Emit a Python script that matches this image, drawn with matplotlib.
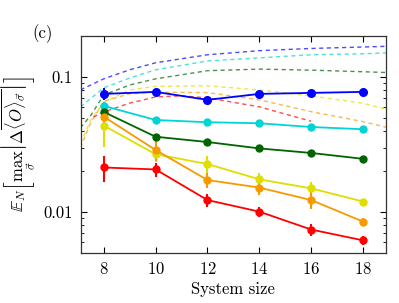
import matplotlib
matplotlib.use("Agg")
import matplotlib.pyplot as plt
from matplotlib.ticker import FixedLocator, FixedFormatter, LogLocator, NullFormatter

plt.rcParams['font.family'] = 'serif'
plt.rcParams['font.serif'] = ['cmr10', 'DejaVu Serif']
plt.rcParams['mathtext.fontset'] = 'cm'
plt.rcParams['axes.formatter.use_mathtext'] = True

# system sizes
sizes = [8, 10, 12, 14, 16, 18]

# data points (value, error)
blue_y = [0.0748, 0.0774, 0.0676, 0.0748, 0.0761, 0.0774]
blue_err = [0.0075, 0.002, 0.002, 0.0015, 0.0015, 0.0015]
cyan_y = [0.061, 0.048, 0.0462, 0.0454, 0.0426, 0.041]
cyan_err = [0.004, 0.0015, 0.0012, 0.001, 0.001, 0.001]
green_y = [0.055, 0.0361, 0.033, 0.0296, 0.0274, 0.0248]
green_err = [0.004, 0.0012, 0.001, 0.0008, 0.0008, 0.0007]
orange_y = [0.0508, 0.0288, 0.0173, 0.0152, 0.0123, 0.00853]
orange_err = [0.007, 0.0048, 0.0022, 0.0019, 0.0018, 0.0006]
yellow_y = [0.0436, 0.0268, 0.0227, 0.0175, 0.015, 0.012]
yellow_err = [0.0133, 0.0034, 0.0031, 0.0019, 0.0018, 0.0005]
red_y = [0.0214, 0.0207, 0.0123, 0.0101, 0.00745, 0.0062]
red_err = [0.0046, 0.0024, 0.0014, 0.0009, 0.00073, 0.00043]

# dashed curves
curve_x = [7.1, 8, 9, 10, 12, 14, 16, 18, 18.9]
blue_curve = [0.0801, 0.0967, 0.1127, 0.127, 0.1455, 0.156, 0.162, 0.166, 0.168]
cyan_curve = [0.060, 0.083, 0.098, 0.1127, 0.131, 0.138, 0.1455, 0.148, 0.150]

green_x = [7.1, 7.5, 8, 9, 10, 11, 12, 14, 16, 18, 18.9]
green_curve = [0.042, 0.052, 0.0736, 0.087, 0.0967, 0.1035, 0.111, 0.114, 0.112, 0.109, 0.1076]

yo_x = [7.1, 7.5, 8, 9, 10, 12, 14, 16, 18, 18.9]
yellow_curve = [0.0324, 0.048, 0.065, 0.080, 0.085, 0.0858, 0.080, 0.0723, 0.0638, 0.0576]
orange_curve = [0.030, 0.046, 0.066, 0.075, 0.077, 0.0765, 0.0676, 0.0553, 0.0467, 0.0424]

red_x = [7.6, 8, 9, 10, 11, 12, 14, 16]
red_curve = [0.0505, 0.055, 0.064, 0.071, 0.0723, 0.070, 0.060, 0.047]

c_blue = '#0000ff'
c_cyan = '#00d5d5'
c_green = '#006400'
c_orange = '#f59b00'
c_yellow = '#dede00'
c_red = '#ff0000'

fig = plt.figure(figsize=(3.99, 3.03), dpi=100)
ax = fig.add_axes([0.203, 0.165, 0.764, 0.716])

dash = dict(ls=(0, (3, 2.5)), lw=1.0, alpha=0.7)
ax.plot(curve_x, blue_curve, color=c_blue, **dash)
ax.plot(curve_x, cyan_curve, color=c_cyan, **dash)
ax.plot(green_x, green_curve, color=c_green, **dash)
ax.plot(yo_x, yellow_curve, color=c_yellow, **dash)
ax.plot(yo_x, orange_curve, color=c_orange, **dash)
ax.plot(red_x, red_curve, color=c_red, **dash)

series = [(blue_y, blue_err, c_blue, 5.5),
          (cyan_y, cyan_err, c_cyan, 5),
          (green_y, green_err, c_green, 5),
          (yellow_y, yellow_err, c_yellow, 5),
          (orange_y, orange_err, c_orange, 5),
          (red_y, red_err, c_red, 5)]
for y, e, c, ms in series:
    ax.errorbar(sizes, y, yerr=e, color=c, marker='o', ms=ms, lw=1.3,
                elinewidth=1.5, capsize=0)

ax.set_yscale('log')
ax.set_xlim(7.12, 18.88)
ax.set_ylim(0.005, 0.2)

ax.xaxis.set_major_locator(FixedLocator(sizes))
ax.yaxis.set_major_locator(FixedLocator([0.01, 0.1]))
ax.yaxis.set_major_formatter(FixedFormatter(['0.01', '0.1']))
ax.yaxis.set_minor_locator(LogLocator(base=10, subs=range(2, 10)))
ax.yaxis.set_minor_formatter(NullFormatter())

ax.tick_params(which='both', direction='in', top=True, right=True, labelsize=12)
ax.tick_params(which='major', length=4, width=0.8, pad=6)
ax.tick_params(which='minor', length=2.5, width=0.6)
for s in ax.spines.values():
    s.set_color('#333333')
    s.set_linewidth(0.9)

ax.set_xlabel('System size', fontsize=12, labelpad=3)
ax.set_ylabel(r'$\mathbb{E}_N\left[\max_{\vec{\sigma}}\left|\Delta\overline{\langle O\rangle_{\vec{\sigma}}}\right|\right]$',
              fontsize=12, labelpad=4)
fig.text(0.08, 0.89, '(c)', fontsize=12, ha='left', va='center')

fig.savefig('out.png', dpi=100)
